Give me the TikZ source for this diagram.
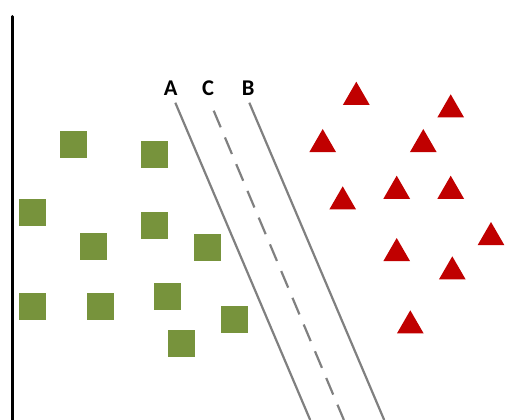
\documentclass[tikz,border=0pt]{standalone}
\usepackage{fontspec}
\setmainfont{Carlito}
\usetikzlibrary{shapes.geometric}
\definecolor{sqgreen}{HTML}{77933C}
\definecolor{trired}{HTML}{C00000}
\definecolor{linegray}{HTML}{808080}
\tikzset{
  sq/.style={rectangle, fill=sqgreen, draw=none, minimum size=27pt, inner sep=0pt, outer sep=0pt},
  tri/.style={regular polygon, regular polygon sides=3, fill=trired, draw=none, minimum size=30.8pt, inner sep=0pt, outer sep=0pt},
  lbl/.style={anchor=base, inner sep=0pt, font=\fontsize{22.5}{26}\selectfont\bfseries},
  sepline/.style={draw=linegray, line width=2.2pt},
  axisline/.style={draw=black, line width=3pt, line cap=round}
}
\begin{document}
\begin{tikzpicture}[x=1pt,y=-1pt]
\useasboundingbox (0,0) rectangle (531,420);
% axis
\coordinate (axtop) at (12.3,16.5);
\coordinate (axbot) at (12.3,421);
\draw[axisline] (axtop) -- (axbot);
% squares
\node[sq] (s1) at (73.5,144.5) {};
\node[sq] (s2) at (154.5,154.5) {};
\node[sq] (s3) at (32.5,212.5) {};
\node[sq] (s4) at (93.5,246.5) {};
\node[sq] (s5) at (154.5,225.5) {};
\node[sq] (s6) at (207.5,247.5) {};
\node[sq] (s7) at (32.5,306.5) {};
\node[sq] (s8) at (100.5,306.5) {};
\node[sq] (s9) at (167.5,296.5) {};
\node[sq] (s10) at (234.5,319.5) {};
\node[sq] (s11) at (181.5,343.5) {};
% triangles
\node[tri] (t1) at (356.3,97.1) {};
\node[tri] (t2) at (450.7,109.7) {};
\node[tri] (t3) at (322.7,144.4) {};
\node[tri] (t4) at (423.3,144.4) {};
\node[tri] (t5) at (396.7,191.1) {};
\node[tri] (t6) at (450.7,191.1) {};
\node[tri] (t7) at (342.7,201.7) {};
\node[tri] (t8) at (491,237.4) {};
\node[tri] (t9) at (396.7,253.4) {};
\node[tri] (t10) at (452.3,271.7) {};
\node[tri] (t11) at (410.3,325.7) {};
% labels
\node[lbl] (labA) at (170.7,96) {A};
\node[lbl] (labC) at (208,96) {C};
\node[lbl] (labB) at (248.3,96) {B};
% separating lines
\coordinate (Atop) at (175.3,102.7);
\coordinate (Abot) at (310.2,420);
\coordinate (Ctop) at (213.7,110.7);
\coordinate (Cbot) at (343.9,420);
\coordinate (Btop) at (249.3,102.7);
\coordinate (Bbot) at (384.2,420);
\draw[sepline] (Atop) -- (Abot);
\draw[sepline, dash pattern=on 18pt off 11pt] (Ctop) -- (Cbot);
\draw[sepline] (Btop) -- (Bbot);
\end{tikzpicture}
\end{document}
